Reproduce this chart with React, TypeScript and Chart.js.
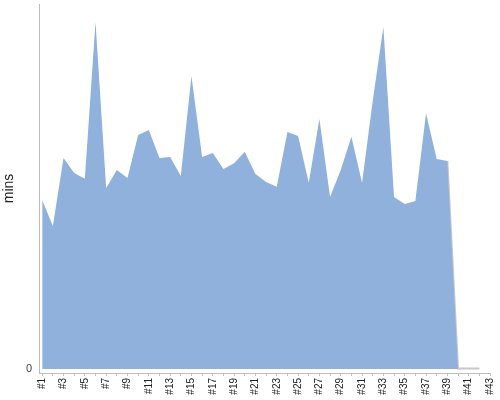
import React, { useEffect, useRef } from "react";
import { Chart, registerables } from "chart.js";

Chart.register(...registerables);

const runIndex: number[] = [
  1, 2, 3, 4, 5, 6, 7, 8, 9, 10, 11, 12, 13, 14, 15, 16, 17, 18, 19, 20,
  21, 22, 23, 24, 25, 26, 27, 28, 29, 30, 31, 32, 33, 34, 35, 36, 37, 38, 39, 40,
];
const minsValues: number[] = [
  46.3, 39.2, 57.8, 53.7, 52.1, 95.1, 49.6, 54.5, 52.3, 64.1,
  65.5, 57.8, 58.1, 52.9, 80.3, 58.1, 59.2, 54.8, 56.4, 59.5,
  53.4, 51.2, 49.9, 64.9, 63.8, 51.0, 68.5, 47.1, 54.5, 63.6,
  51.0, 73.4, 93.7, 47.1, 45.2, 46.0, 70.1, 57.5, 57.0, 0,
];
const tailIndex: number[] = [39, 40, 41, 42];
const tailValues: number[] = [57.0, 0.15, 0.15, 0.15];
const yTickValues: number[] = [0];
const xMin = 0.7;
const xMax = 43;

export default function App() {
  const ref = useRef<HTMLCanvasElement | null>(null);
  useEffect(() => {
    if (!ref.current) return;
    const chart = new Chart(ref.current, {
      type: "line",
      data: {
        datasets: [
          {
            label: "mins",
            data: runIndex.map((x, i) => ({ x, y: minsValues[i] })),
            backgroundColor: "#8fb1db",
            borderColor: "#8fb1db",
            borderWidth: 0,
            pointRadius: 0,
            fill: "origin",
            tension: 0,
          },
          {
            label: "tail",
            data: tailIndex.map((x, i) => ({ x, y: tailValues[i] })),
            backgroundColor: "#c8c8c8",
            borderColor: "#c8c8c8",
            borderWidth: 2,
            pointRadius: 0,
            fill: "origin",
            tension: 0,
          },
        ],
      },
      options: {
        animation: false,
        responsive: false,
        maintainAspectRatio: false,
        layout: { padding: { top: 4, right: 10, left: 0, bottom: 0 } },
        plugins: { legend: { display: false }, tooltip: { enabled: false } },
        scales: {
          x: {
            type: "linear",
            min: xMin,
            max: xMax,
            afterFit: (s: any) => {
              s.height = 27;
              s.paddingLeft = 0;
              s.paddingRight = 0;
              s.paddingTop = 0;
              s.paddingBottom = 0;
            },
            afterBuildTicks: (s: any) => {
              const t = [];
              for (let v = 1; v <= 43; v++) t.push({ value: v });
              s.ticks = t;
            },
            border: { display: true, color: "#bdbdbd", width: 1 },
            grid: {
              display: true,
              drawOnChartArea: false,
              drawTicks: true,
              tickLength: 3,
              color: "#bdbdbd",
            },
            ticks: {
              autoSkip: false,
              maxRotation: 90,
              minRotation: 90,
              padding: 2,
              color: "#222",
              font: { family: "Liberation Sans, Arial, sans-serif", size: 10 },
              callback: (v: any) => (Number(v) % 2 === 1 ? "#" + v : ""),
            },
          },
          y: {
            min: -1.1,
            max: 100,
            afterFit: (s: any) => {
              s.width = 39;
              s.paddingLeft = 0;
              s.paddingRight = 0;
              s.paddingTop = 0;
              s.paddingBottom = 0;
            },
            afterBuildTicks: (s: any) => {
              s.ticks = yTickValues.map((v) => ({ value: v }));
            },
            border: { display: true, color: "#bdbdbd", width: 1 },
            grid: { display: true, drawOnChartArea: false, drawTicks: false },
            ticks: {
              padding: 7,
              color: "#444",
              font: { family: "Liberation Sans, Arial, sans-serif", size: 11 },
            },
            title: {
              display: true,
              text: "mins",
              color: "#222",
              padding: { top: 1, bottom: 0 },
              font: { family: "Liberation Sans, Arial, sans-serif", size: 14 },
            },
          },
        },
      },
    });
    return () => chart.destroy();
  }, []);
  return (
    <div style={{ position: "fixed", left: 0, top: 0, width: 500, height: 400, background: "#fff" }}>
      <canvas ref={ref} width={500} height={400} style={{ display: "block", width: 500, height: 400 }} />
    </div>
  );
}
